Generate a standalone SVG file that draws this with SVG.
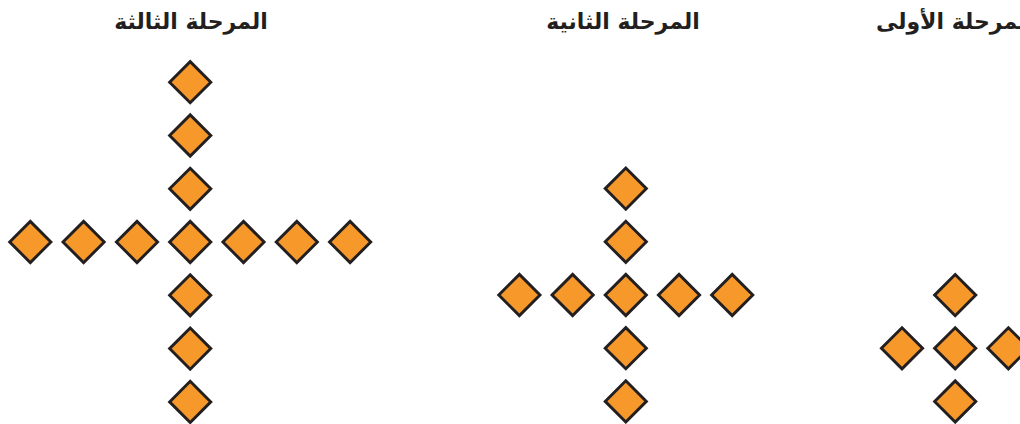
<svg xmlns="http://www.w3.org/2000/svg" xmlns:xlink="http://www.w3.org/1999/xlink" width="1020" height="424" viewBox="0 0 1020 424">
<style>
.d{fill:#F7992A;stroke:#231F20;stroke-width:2.9;stroke-linejoin:miter}
.t{font-family:"DejaVu Sans","Noto Sans",sans-serif;font-weight:bold;font-size:22px;fill:#231F20;text-anchor:middle}
</style>
<defs>
<path id="dm" class="d" d="M0,-20.6 L20.6,0 L0,20.6 L-20.6,0 Z"/>
</defs>
<rect width="1020" height="424" fill="#fff"/>
<g id="titles">
<text class="t" x="191" y="29">المرحلة الثالثة</text>
<text class="t" x="623" y="29">المرحلة الثانية</text>
<text class="t" x="955" y="29">المرحلة الأولى</text>
</g>
<g id="stage3">
<g id="s3-h1"><use xlink:href="#dm" x="30.3" y="242"/></g>
<g id="s3-h2"><use xlink:href="#dm" x="83.6" y="242"/></g>
<g id="s3-h3"><use xlink:href="#dm" x="137" y="242"/></g>
<g id="s3-c"><use xlink:href="#dm" x="190.2" y="242"/></g>
<g id="s3-h5"><use xlink:href="#dm" x="243.5" y="242"/></g>
<g id="s3-h6"><use xlink:href="#dm" x="296.8" y="242"/></g>
<g id="s3-h7"><use xlink:href="#dm" x="350.1" y="242"/></g>
<g id="s3-v1"><use xlink:href="#dm" x="190.2" y="82.2"/></g>
<g id="s3-v2"><use xlink:href="#dm" x="190.2" y="135.5"/></g>
<g id="s3-v3"><use xlink:href="#dm" x="190.2" y="188.8"/></g>
<g id="s3-v5"><use xlink:href="#dm" x="190.2" y="295.3"/></g>
<g id="s3-v6"><use xlink:href="#dm" x="190.2" y="348.6"/></g>
<g id="s3-v7"><use xlink:href="#dm" x="190.2" y="401.9"/></g>
</g>
<g id="stage2">
<g id="s2-h1"><use xlink:href="#dm" x="519.4" y="295"/></g>
<g id="s2-h2"><use xlink:href="#dm" x="572.6" y="295"/></g>
<g id="s2-c"><use xlink:href="#dm" x="625.8" y="295"/></g>
<g id="s2-h4"><use xlink:href="#dm" x="679" y="295"/></g>
<g id="s2-h5"><use xlink:href="#dm" x="732.2" y="295"/></g>
<g id="s2-v1"><use xlink:href="#dm" x="625.8" y="188.6"/></g>
<g id="s2-v2"><use xlink:href="#dm" x="625.8" y="241.8"/></g>
<g id="s2-v4"><use xlink:href="#dm" x="625.8" y="348.2"/></g>
<g id="s2-v5"><use xlink:href="#dm" x="625.8" y="401.4"/></g>
</g>
<g id="stage1">
<g id="s1-h1"><use xlink:href="#dm" x="902" y="348.3"/></g>
<g id="s1-c"><use xlink:href="#dm" x="955.2" y="348.3"/></g>
<g id="s1-h3"><use xlink:href="#dm" x="1008.4" y="348.3"/></g>
<g id="s1-v1"><use xlink:href="#dm" x="955.2" y="295.1"/></g>
<g id="s1-v3"><use xlink:href="#dm" x="955.2" y="401.5"/></g>
</g>
</svg>
